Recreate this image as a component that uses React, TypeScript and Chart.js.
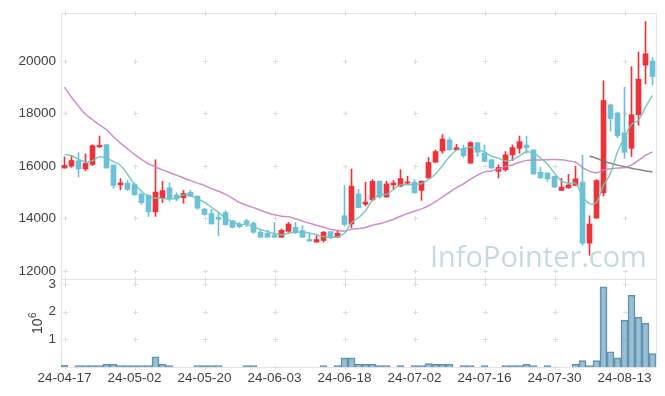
import { useEffect, useRef } from 'react';
import { Chart, registerables } from 'chart.js';

Chart.register(...registerables);

const dates = [
  '24-04-17','24-04-18','24-04-19','24-04-22','24-04-23','24-04-24','24-04-25','24-04-26','24-04-29','24-04-30',
  '24-05-02','24-05-03','24-05-07','24-05-08','24-05-09','24-05-10','24-05-13','24-05-14','24-05-16','24-05-17',
  '24-05-20','24-05-21','24-05-22','24-05-23','24-05-24','24-05-27','24-05-28','24-05-29','24-05-30','24-05-31',
  '24-06-03','24-06-04','24-06-05','24-06-07','24-06-10','24-06-11','24-06-12','24-06-13','24-06-14','24-06-17',
  '24-06-18','24-06-19','24-06-20','24-06-21','24-06-24','24-06-25','24-06-26','24-06-27','24-06-28','24-07-01',
  '24-07-02','24-07-03','24-07-04','24-07-05','24-07-08','24-07-09','24-07-10','24-07-11','24-07-12','24-07-15',
  '24-07-16','24-07-17','24-07-18','24-07-19','24-07-22','24-07-23','24-07-24','24-07-25','24-07-26','24-07-29',
  '24-07-30','24-07-31','24-08-01','24-08-02','24-08-05','24-08-06','24-08-07','24-08-08','24-08-09','24-08-12',
  '24-08-13','24-08-14','24-08-16','24-08-19','24-08-20',
];

const opens = [
  15918,15993,16196,15880,16057,16724,16810,16031,15277,15342,
  15293,14927,14878,14249,14777,15164,14889,14788,14991,14852,
  14351,14185,14042,14223,13910,13786,13910,13809,13470,13432,
  13372,13281,13508,13658,13534,13195,13093,13157,13496,13281,
  14099,13786,14927,14539,14701,15417,14814,15277,15229,15342,
  15379,15067,15541,16144,16573,16987,16611,16671,16106,16886,
  16483,16234,15793,15857,16422,16671,16799,16611,15756,15730,
  15605,15067,15164,15255,15379,13055,14012,14976,18328,18015,
  17262,16671,17951,19842,20000,
];
const highs = [
  16347,16396,16509,16460,16810,17138,16810,16031,15518,15443,
  15353,14976,14900,16234,15405,15353,14976,15067,15067,14852,
  14390,14345,14212,14287,13920,13846,13974,13860,13553,13545,
  13846,13598,13846,13846,13722,13410,13345,13508,13500,13534,
  15255,15880,15104,15379,15481,15430,15417,15443,15857,15605,
  15481,15430,16321,16611,17198,17074,16822,16799,16923,16900,
  16799,16240,16046,16547,16799,17138,17138,16620,15944,15740,
  15620,15530,15680,15982,16422,14099,15481,19247,18360,18053,
  18994,19785,20339,21506,20124,
];
const lows = [
  15918,15944,15579,15820,16008,16710,15918,15153,15089,15067,
  14878,14539,14072,14072,14600,14663,14663,14577,14830,14351,
  14120,13786,13345,13740,13635,13635,13685,13432,13270,13281,
  13281,13281,13470,13420,13281,13131,13093,13093,13221,13281,
  13710,13635,14400,14475,14690,14765,14800,15104,15200,15330,
  14960,14690,15530,16130,16483,16600,16600,16321,16100,16358,
  16160,15910,15541,15793,16208,16483,16483,15680,15530,15417,
  15180,15060,15142,15240,12969,12592,14000,14852,17326,17074,
  16294,16358,17552,19126,19081,
];
const closes = [
  16019,16208,15880,16095,16773,16784,15918,15255,15353,15104,
  14901,14600,14249,15002,15059,14765,14739,14954,14841,14389,
  14148,13786,13967,13760,13658,13685,13786,13470,13281,13281,
  13281,13545,13786,13470,13281,13131,13195,13470,13281,13432,
  13770,15229,14411,14626,15417,14814,15315,15353,15518,15390,
  14976,15417,16132,16547,17025,16611,16697,16385,16886,16520,
  16170,15918,15944,16422,16697,16923,16697,15692,15541,15503,
  15191,15191,15277,15511,13055,13786,15443,18494,17801,17149,
  16520,17951,19307,20275,19409,
];
// volume in millions of shares
const volumes = [
  0.06,0,0.05,0.05,0.05,0.05,0.1,0.1,0.05,0.05,
  0.05,0.05,0.05,0.37,0.1,0.05,0,0,0,0.05,
  0.05,0.05,0.05,0,0,0,0.05,0.05,0,0,
  0,0,0,0,0,0,0,0.05,0,0.05,
  0.33,0.33,0.1,0.1,0.1,0.05,0.05,0,0.05,0,
  0.05,0.05,0.12,0.1,0.1,0.1,0,0.05,0.05,0,
  0.05,0,0,0.05,0.05,0.05,0.1,0.05,0,0.05,
  0,0,0,0.1,0.23,0.05,0.23,2.89,0.55,0.33,
  1.69,2.58,1.8,1.58,0.48,
];
const ma5 = [
  16440,16390,16260,16150,16195,16348,16290,16165,16017,15683,
  15306,15043,14841,14771,14762,14735,14763,14904,14872,14738,
  14614,14424,14226,14010,13864,13771,13771,13672,13576,13501,
  13420,13372,13435,13473,13473,13443,13373,13309,13272,13302,
  13430,13836,14025,14294,14691,14899,14917,15105,15283,15278,
  15310,15331,15487,15692,16019,16346,16602,16653,16721,16620,
  16532,16376,16288,16195,16230,16381,16537,16486,16310,16071,
  15725,15424,15341,15335,14845,14564,14614,15258,15716,16535,
  17081,17583,17746,18240,18692,
];
const ma20 = [
  19000,18620,18280,17970,17760,17560,17380,17110,16870,16650,
  16440,16250,16080,15960,15850,15750,15650,15540,15440,15344,
  15251,15130,15034,14917,14762,14607,14500,14411,14307,14216,
  14135,14082,14059,13983,13894,13812,13735,13661,13583,13535,
  13516,13588,13610,13653,13741,13798,13874,13968,14080,14186,
  14271,14364,14481,14635,14822,14996,15172,15317,15498,15652,
  15772,15806,15883,15973,16037,16142,16211,16228,16230,16235,
  16246,16235,16192,16140,15942,15800,15738,15843,15889,15920,
  15938,16039,16208,16400,16536,
];
const maLong: (number | null)[] = [
  null,null,null,null,null,null,null,null,null,null,
  null,null,null,null,null,null,null,null,null,null,
  null,null,null,null,null,null,null,null,null,null,
  null,null,null,null,null,null,null,null,null,null,
  null,null,null,null,null,null,null,null,null,null,
  null,null,null,null,null,null,null,null,null,null,
  null,null,null,null,null,null,null,null,null,null,
  null,null,null,null,null,16380,16290,16180,16100,16030,
  15970,15910,15860,15810,15770,
];

const priceTicks = [12000, 14000, 16000, 18000, 20000];
const volumeTicks = [1, 2, 3];
const labelEvery = 10;
const watermark = 'InfoPointer.com';

const RED = '#ec3338';
const BLUE = '#6cc1d9';
const FONT = "'Liberation Sans', Arial, sans-serif";
const TICK_COLOR = '#3f3f3f';

export default function App() {
  const ref = useRef<HTMLCanvasElement>(null);

  useEffect(() => {
    document.body.style.margin = '0';
    const canvas = ref.current;
    if (!canvas) return;
    const colors = closes.map((c, i) => (c >= opens[i] ? RED : BLUE));

    const decor = {
      id: 'decor',
      beforeDatasetsDraw(chart: any) {
        const { ctx, chartArea } = chart;
        const xs = chart.scales.x;
        const yp = chart.scales.y;
        const yv = chart.scales.yv;
        ctx.save();
        // frame
        ctx.strokeStyle = '#e4e4e4';
        ctx.lineWidth = 1;
        ctx.beginPath();
        ctx.moveTo(chartArea.left + 0.5, chartArea.top);
        ctx.lineTo(chartArea.left + 0.5, chartArea.bottom);
        ctx.moveTo(chartArea.left, chartArea.top + 0.5);
        ctx.lineTo(chartArea.right, chartArea.top + 0.5);
        ctx.moveTo(chartArea.right + 0.5, chartArea.top);
        ctx.lineTo(chartArea.right + 0.5, chartArea.bottom);
        ctx.moveTo(chartArea.left, chartArea.bottom + 0.5);
        ctx.lineTo(chartArea.right, chartArea.bottom + 0.5);
        const sep = Math.round(yp.bottom) + 0.5;
        ctx.moveTo(chartArea.left, sep);
        ctx.lineTo(chartArea.right, sep);
        ctx.stroke();
        // crosses
        ctx.strokeStyle = '#dddddd';
        const ys: number[] = [];
        priceTicks.forEach((v) => ys.push(yp.getPixelForValue(v)));
        volumeTicks.forEach((v) => ys.push(yv.getPixelForValue(v)));
        ys.push(chartArea.top, yp.bottom, chartArea.bottom);
        ctx.beginPath();
        for (let i = 0; i < dates.length; i += labelEvery) {
          const x = Math.round(xs.getPixelForValue(i)) + 0.5;
          ys.forEach((yy) => {
            const y = Math.round(yy) + 0.5;
            ctx.moveTo(x - 2.5, y);
            ctx.lineTo(x + 2.5, y);
            ctx.moveTo(x, y - 2.5);
            ctx.lineTo(x, y + 2.5);
          });
        }
        ctx.stroke();
        // watermark
        ctx.fillStyle = '#c4d9e4';
        ctx.font = "30px 'Open Sans', sans-serif";
        const w = ctx.measureText(watermark).width;
        const size = (30 * 217) / w;
        ctx.font = `${size}px 'Open Sans', sans-serif`;
        ctx.textAlign = 'left';
        ctx.textBaseline = 'alphabetic';
        ctx.fillText(watermark, 430, 266.5);
        ctx.restore();
      },
      afterDraw(chart: any) {
        const { ctx } = chart;
        const yv = chart.scales.yv;
        const cy = (yv.top + yv.bottom) / 2 + 0.5;
        ctx.save();
        ctx.translate(42, cy);
        ctx.rotate(-Math.PI / 2);
        ctx.fillStyle = TICK_COLOR;
        ctx.textBaseline = 'alphabetic';
        ctx.textAlign = 'left';
        ctx.font = `14px ${FONT}`;
        const w1 = ctx.measureText('10').width;
        ctx.font = `10px ${FONT}`;
        const w2 = ctx.measureText('6').width;
        const start = -(w1 + w2) / 2;
        ctx.font = `14px ${FONT}`;
        ctx.fillText('10', start, 0);
        ctx.font = `10px ${FONT}`;
        ctx.fillText('6', start + w1 + 0.5, -6);
        ctx.restore();
      },
    };

    const tickFont = { family: FONT, size: 13.5 };
    const plain = (v: any) => String(v);

    const chart = new Chart(canvas, {
      type: 'bar',
      data: {
        labels: dates,
        datasets: [
          {
            type: 'line',
            label: 'MA5',
            data: ma5,
            yAxisID: 'y',
            borderColor: 'rgba(112,196,184,0.9)',
            borderWidth: 1.5,
            pointRadius: 0,
            tension: 0.4,
            order: 1,
          } as any,
          {
            type: 'line',
            label: 'MA20',
            data: ma20,
            yAxisID: 'y',
            borderColor: 'rgba(200,130,200,0.9)',
            borderWidth: 1.5,
            pointRadius: 0,
            tension: 0.4,
            order: 1,
          } as any,
          {
            type: 'line',
            label: 'MA long',
            data: maLong,
            yAxisID: 'y',
            borderColor: 'rgba(110,110,110,0.85)',
            borderWidth: 1.5,
            pointRadius: 0,
            tension: 0.4,
            spanGaps: false,
            order: 1,
          } as any,
          {
            label: 'body',
            data: opens.map((o, i) => [o, closes[i]]),
            yAxisID: 'y',
            backgroundColor: colors,
            barThickness: 5,
            grouped: false,
            order: 2,
          } as any,
          {
            label: 'wick',
            data: lows.map((l, i) => [l, highs[i]]),
            yAxisID: 'y',
            backgroundColor: colors,
            barThickness: 1,
            grouped: false,
            order: 3,
          } as any,
          {
            label: 'volume',
            data: volumes,
            yAxisID: 'yv',
            backgroundColor: 'rgba(120,170,196,0.75)',
            borderColor: 'rgba(70,130,165,0.9)',
            borderWidth: 1,
            barPercentage: 1,
            categoryPercentage: 1,
            grouped: false,
            order: 4,
          } as any,
        ],
      },
      options: {
        responsive: false,
        maintainAspectRatio: false,
        animation: false,
        layout: { padding: { top: 10, right: 9, left: 0, bottom: 0 } },
        plugins: { legend: { display: false }, tooltip: { enabled: false } },
        scales: {
          x: {
            type: 'category',
            offset: true,
            grid: { display: false, drawTicks: false },
            border: { display: false },
            ticks: {
              autoSkip: false,
              maxRotation: 0,
              minRotation: 0,
              padding: 3,
              color: TICK_COLOR,
              font: tickFont,
              callback: (_v: any, i: number) => (i % labelEvery === 0 ? dates[i] : ''),
            },
            afterFit: (s: any) => {
              s.height = 29;
            },
          },
          yv: {
            type: 'linear',
            position: 'left',
            stack: 'panels',
            stackWeight: 88.7,
            min: 0,
            max: 3.17,
            grid: { display: false, drawTicks: false },
            border: { display: false },
            ticks: { padding: 5, color: TICK_COLOR, font: tickFont, callback: plain },
            afterBuildTicks: (s: any) => {
              s.ticks = volumeTicks.map((v) => ({ value: v }));
            },
            afterFit: (s: any) => {
              s.width = 61;
            },
          },
          y: {
            type: 'linear',
            position: 'left',
            stack: 'panels',
            stackWeight: 268.3,
            min: 11686,
            max: 21826,
            grid: { display: false, drawTicks: false },
            border: { display: false },
            ticks: { padding: 5, color: TICK_COLOR, font: tickFont, callback: plain },
            afterBuildTicks: (s: any) => {
              s.ticks = priceTicks.map((v) => ({ value: v }));
            },
            afterFit: (s: any) => {
              s.width = 61;
            },
          },
        },
      } as any,
      plugins: [decor],
    });
    return () => chart.destroy();
  }, []);

  return (
    <div style={{ width: 665, height: 396 }}>
      <canvas ref={ref} width={665} height={396} style={{ display: 'block' }} />
    </div>
  );
}
